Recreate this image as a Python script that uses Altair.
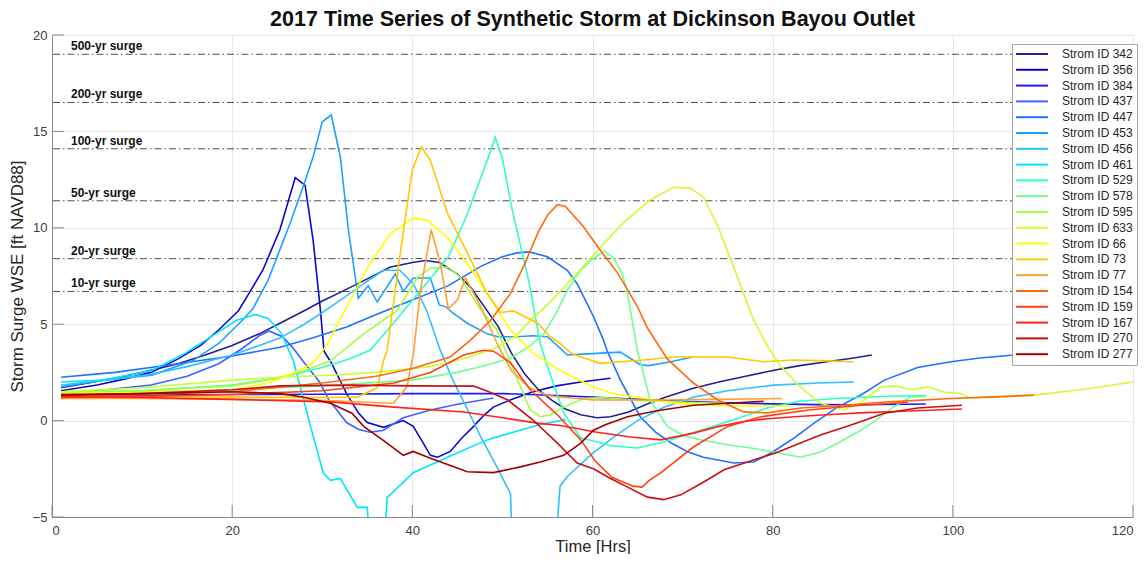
import altair as alt
import pandas as pd

# ---------------- data ----------------
storm_ids = ["342", "356", "384", "437", "447", "453", "456", "461", "529", "578",
             "595", "633", "66", "73", "77", "154", "159", "167", "270", "277"]
storm_colors = ["#20208f", "#0a0ac8", "#1a1aff", "#4060ff", "#2070ff", "#20a0ff", "#30c0ff",
                "#00e5ff", "#30ffc0", "#70ff90", "#a0ff40", "#c8ff30", "#ffff00", "#ffc800",
                "#ffa030", "#ff6a10", "#ff4010", "#ff2020", "#c81010", "#a00000"]

T_342 = [1, 4, 7, 10, 14, 17, 20, 23, 25.3, 28, 30, 32, 35, 37.5, 40, 41.5, 43, 45, 46.5, 48, 49.5, 51, 52.5, 54, 55.5, 57, 58.7, 60.5, 62, 64, 66, 68, 71, 74, 77, 80, 83, 86, 89, 91]
Y_342 = [1.7, 1.95, 2.2, 2.5, 2.95, 3.4, 3.9, 4.5, 5.05, 5.7, 6.2, 6.65, 7.35, 7.95, 8.2, 8.3, 8.2, 7.6, 6.9, 5.9, 4.9, 3.5, 2.4, 1.6, 1.05, 0.6, 0.3, 0.15, 0.2, 0.45, 0.85, 1.2, 1.65, 2.0, 2.3, 2.6, 2.85, 3.05, 3.25, 3.4]

T_356 = [1, 5, 8, 11, 14, 16.5, 18.5, 20.7, 22, 23.4, 25.3, 27, 28.1, 29, 29.8, 30.2, 31, 32.7, 34, 35, 36.8, 39, 40.1, 41, 42, 42.8, 44.2, 45.5, 46.8, 48, 49, 51, 53.4, 56, 58.7, 62]
Y_356 = [1.55, 1.85, 2.15, 2.5, 3.2, 3.9, 4.7, 5.7, 6.7, 7.8, 9.9, 12.6, 12.2, 9.3, 5.7, 3.6, 3.0, 1.4, 0.4, -0.1, -0.35, 0.0, -0.3, -1.0, -1.8, -1.9, -1.6, -0.9, -0.3, 0.3, 0.7, 1.1, 1.5, 1.8, 2.0, 2.2]

T_384 = [1, 10, 20, 30, 40, 50, 56, 60, 65, 70, 75, 80, 85, 90, 97]
Y_384 = [1.3, 1.32, 1.35, 1.37, 1.4, 1.4, 1.3, 1.22, 1.1, 1.0, 0.92, 0.87, 0.83, 0.82, 0.86]

T_437 = [1, 6, 11, 15, 18.5, 21, 23, 24.1, 25.6, 26.7, 28, 29.7, 30.7, 32.7, 34, 35.3, 36.8, 39, 42, 45, 49]
Y_437 = [1.45, 1.6, 1.85, 2.3, 2.95, 3.7, 4.4, 4.65, 4.35, 3.8, 3.0, 2.0, 1.1, -0.1, -0.45, -0.6, -0.5, 0.15, 0.55, 0.85, 1.17]

T_447 = [1, 7, 14, 20, 25.3, 29, 32.7, 36, 40, 44, 47.6, 50, 51.6, 53, 55, 57.2, 58.3, 60.1, 61.2, 61.6, 63.1, 65.3, 67, 68.7, 70.5, 72.3, 75.7, 77.9, 80.1, 82.4, 84.6, 87.2, 89.8, 92.4, 96.1, 99.8, 103, 106.8, 110, 114, 117, 120]
Y_447 = [2.25, 2.5, 2.95, 3.35, 3.8, 4.3, 4.85, 5.5, 6.25, 7.0, 8.0, 8.5, 8.7, 8.75, 8.5, 7.8, 7.1, 5.4, 4.2, 3.65, 2.1, 0.2, -0.6, -1.15, -1.6, -1.9, -2.2, -2.15, -1.6, -0.9, -0.13, 0.7, 1.33, 2.1, 2.75, 3.05, 3.25, 3.4, 3.55, 3.7, 3.82, 3.92]

T_453 = [1, 5.6, 11.1, 15.6, 18.5, 20.7, 22.3, 24, 26.4, 28, 29, 30, 31, 32, 32.9, 34, 35.1, 36.1, 38.1, 39, 40.1, 42, 43, 43.7, 44.6, 46.1, 48.3, 49.5, 51.6, 53.4, 55, 56.4, 57.2, 59, 60.9, 63.1, 65.3, 66.2, 68.7, 71.1]
Y_453 = [1.75, 2.1, 2.36, 3.1, 4.0, 5.0, 5.8, 7.3, 10.2, 12.3, 13.7, 15.5, 15.85, 13.7, 9.9, 6.35, 7.0, 6.15, 7.6, 6.7, 7.4, 7.4, 6.0, 5.9, 5.55, 5.05, 4.5, 4.35, 4.35, 4.4, 4.35, 3.76, 3.4, 3.45, 3.5, 3.55, 2.9, 2.85, 3.05, 3.3]

T_456 = [1, 6, 11, 15, 20, 25.3, 28, 30, 32.5, 34.6, 36.8, 38.6, 40.1, 41.6, 43.1, 44.5, 46, 47.6, 49.5, 50.9, 51.1, 55.9, 56.4, 57.2, 60, 62.5, 65, 68, 71.3, 75, 80.1, 85, 89]
Y_456 = [1.85, 2.1, 2.4, 2.8, 3.4, 4.28, 5.0, 5.6, 6.4, 7.1, 7.8, 7.8, 7.1, 5.7, 3.65, 2.1, 0.7, -0.85, -2.5, -3.8, -6.5, -6.5, -3.4, -2.9, -1.7, -0.8, 0.0, 0.7, 1.22, 1.55, 1.84, 1.95, 2.0]

T_461 = [1, 5.6, 11.1, 14.8, 18.5, 20.5, 22.6, 24, 25.5, 26.8, 28.7, 30.1, 30.9, 32, 33.9, 35, 35.3, 36.9, 37.2, 40.1, 43.9, 48.3, 51.2, 54.2, 57]
Y_461 = [2.0, 2.1, 2.6, 3.5, 4.6, 5.2, 5.5, 5.3, 4.5, 3.1, -0.3, -2.7, -3.1, -3.0, -4.5, -4.5, -6.5, -6.5, -4.0, -2.7, -1.9, -1.0, -0.6, -0.2, 0.05]

T_529 = [1, 10, 20, 25, 30, 33, 35.3, 37.9, 40.9, 44, 46.1, 48.7, 49.2, 50, 51.1, 52.9, 54.2, 55, 56.8, 58.7, 60.5, 62, 65, 68, 72, 76, 79.4, 83, 87, 92, 97]
Y_529 = [1.45, 1.55, 1.85, 2.2, 2.75, 3.2, 3.65, 5.05, 6.75, 8.5, 10.7, 14.0, 14.7, 13.6, 10.9, 7.3, 4.0, 2.8, 0.4, -0.9, -1.1, -1.3, -1.42, -1.1, -0.5, 0.1, 0.65, 1.0, 1.15, 1.25, 1.3]

T_578 = [1, 10, 20, 30, 40, 45, 48, 50.9, 53, 54.6, 56, 57.2, 58.5, 59.8, 61.3, 62.4, 63.3, 63.8, 65, 66.4, 68.3, 70, 72, 75, 77.6, 80.1, 83.1, 85.3, 87.5, 89.8, 91, 93.4, 95.3, 97]
Y_578 = [1.45, 1.5, 1.6, 1.8, 2.1, 2.5, 2.85, 3.25, 3.85, 4.5, 5.6, 6.75, 7.7, 8.3, 8.8, 8.4, 7.6, 6.8, 3.6, 1.07, -0.3, -0.75, -1.0, -1.25, -1.42, -1.63, -1.9, -1.63, -1.1, -0.5, -0.13, 0.7, 1.22, 1.25]

T_595 = [1, 10, 20, 25, 28, 30.9, 34.6, 38.3, 40.6, 42, 44, 45.3, 47.6, 49.4, 51.7, 53.1, 54.2, 55.3, 56.8, 59, 61.2, 65, 70, 75]
Y_595 = [1.5, 1.55, 1.8, 2.2, 2.6, 3.1, 4.5, 5.7, 7.45, 7.9, 7.95, 7.45, 5.75, 4.7, 2.1, 0.55, 0.2, 0.3, 0.7, 1.15, 1.2, 1.05, 0.95, 0.9]

T_633 = [1, 10, 20, 25, 30.9, 36, 42, 46, 49.4, 51.5, 53.1, 55, 56.8, 58.8, 60.9, 63.5, 66.4, 69, 70.9, 72.3, 73.9, 75.8, 77.9, 79.5, 80.9, 83.1, 85.3, 87.9, 89.7, 92, 93.6, 95.4, 97.2, 99, 100.9, 101.8, 105, 109, 115, 120]
Y_633 = [1.5, 1.7, 2.1, 2.25, 2.35, 2.5, 2.8, 3.25, 3.8, 4.4, 5.2, 6.0, 6.9, 7.9, 9.0, 10.3, 11.45, 12.1, 12.05, 11.6, 10.1, 7.8, 5.2, 3.8, 2.8, 1.74, 0.9, 0.55, 0.9, 1.74, 1.8, 1.6, 1.75, 1.48, 1.4, 1.2, 1.22, 1.32, 1.65, 2.0]

T_66 = [1, 10, 20, 24, 27, 29, 30.5, 32.7, 35.3, 37.6, 40.1, 41.6, 43.9, 46.1, 48.3, 50.9, 53.4, 56.4, 60.1, 62.4, 65.3, 67.6, 70, 73.5, 78, 82]
Y_66 = [1.4, 1.45, 1.6, 1.95, 2.5, 3.0, 3.9, 5.9, 8.15, 9.7, 10.5, 10.4, 9.5, 8.15, 6.6, 4.7, 3.5, 2.6, 1.74, 1.38, 1.2, 1.0, 0.88, 0.78, 0.76, 0.76]

T_73 = [1, 10, 20, 30, 33.9, 36.1, 36.8, 37.2, 38.7, 40, 41, 42, 43.9, 46.1, 48.3, 49.8, 51.2, 53.9, 55.3, 56.4, 57.6, 58.7, 60.9, 63, 65.7, 69, 75, 79, 82.4, 86, 89]
Y_73 = [1.25, 1.25, 1.22, 1.2, 1.22, 1.7, 3.1, 3.65, 8.8, 13.0, 14.2, 13.5, 10.75, 8.7, 6.6, 5.6, 5.7, 5.05, 4.35, 4.0, 3.5, 3.3, 2.97, 3.05, 3.14, 3.3, 3.3, 3.05, 3.14, 3.1, 3.05]

T_77 = [1, 10, 20, 30, 35, 37.9, 39.4, 40.1, 40.9, 42.1, 43.1, 44, 45, 45.9, 47.6, 49.4, 51, 53, 55, 56.4, 60.1, 67.6, 74, 81]
Y_77 = [1.15, 1.15, 1.1, 1.05, 0.95, 0.9, 1.75, 3.4, 6.75, 9.9, 8.15, 5.8, 6.25, 7.4, 5.9, 4.0, 2.6, 1.7, 1.3, 1.22, 1.07, 1.07, 1.1, 1.15]

T_154 = [1, 10, 20, 30, 36, 40, 44.2, 46.4, 48.7, 50.9, 52.3, 54, 55, 56.1, 57, 59, 60.6, 62.8, 65, 66.1, 68.3, 71.2, 73.9, 76.8, 79.4, 83.1, 88, 92, 96, 99.8, 104, 109]
Y_154 = [1.3, 1.35, 1.5, 1.95, 2.3, 2.7, 3.3, 4.15, 5.2, 6.6, 7.95, 9.8, 10.65, 11.2, 11.1, 10.05, 9.0, 7.65, 5.9, 4.8, 3.2, 1.95, 1.07, 0.45, 0.4, 0.65, 0.8, 0.95, 1.05, 1.15, 1.22, 1.32]

T_159 = [1, 10, 20, 30, 38, 42, 45.7, 47.9, 49, 50.9, 53.1, 56.1, 58.7, 60.3, 62.2, 64.5, 65.5, 66.3, 67.6, 71.2, 75, 78.7, 84, 89.8, 95]
Y_159 = [1.2, 1.25, 1.35, 1.55, 1.95, 2.5, 3.4, 3.65, 3.6, 3.0, 1.6, 0.3, -1.0, -2.1, -2.95, -3.4, -3.45, -3.1, -2.7, -1.37, -0.3, 0.2, 0.55, 0.8, 0.95]

T_167 = [1, 10, 20, 30.9, 38, 45.7, 50, 53.9, 56.4, 60.5, 64.2, 67.6, 71.2, 74, 76.8, 79.5, 82.4, 86, 89.8, 95, 101]
Y_167 = [1.25, 1.2, 1.1, 0.97, 0.7, 0.45, 0.15, -0.13, -0.25, -0.6, -0.85, -1.0, -0.65, -0.3, -0.05, 0.1, 0.2, 0.3, 0.4, 0.5, 0.6]

T_270 = [1, 10, 20, 25.3, 33.3, 40, 46.8, 48.5, 50.6, 53.4, 56.1, 58.3, 60.1, 62, 63.9, 66.1, 67.9, 69.8, 72.3, 74.6, 77.2, 80.6, 85.3, 88.7, 92.4, 96.1, 101]
Y_270 = [1.3, 1.4, 1.6, 1.8, 1.84, 1.8, 1.79, 1.5, 1.07, 0.03, -1.17, -2.2, -2.5, -3.0, -3.45, -3.97, -4.1, -3.85, -3.2, -2.55, -2.15, -1.63, -0.75, -0.23, 0.38, 0.65, 0.8]

T_277 = [1, 10, 20, 25.3, 27.8, 30.9, 33.3, 34.6, 37, 39, 40.1, 42, 44.6, 46.1, 49, 52, 54.2, 56.8, 58.7, 60.1, 61.5, 63.9, 67, 71.2, 75, 79]
Y_277 = [1.35, 1.4, 1.5, 1.4, 1.22, 0.9, 0.38, -0.3, -1.1, -1.8, -1.6, -1.95, -2.4, -2.65, -2.7, -2.4, -2.15, -1.8, -1.17, -0.5, -0.2, 0.2, 0.5, 0.8, 0.9, 1.0]

surge_labels = ["500-yr surge", "200-yr surge", "100-yr surge", "50-yr surge", "20-yr surge", "10-yr surge"]
surge_values = [19.0, 16.5, 14.1, 11.4, 8.4, 6.7]

x_ticks = [0, 20, 40, 60, 80, 100, 120]
y_ticks = [-5, 0, 5, 10, 15, 20]

series = {
    "342": (T_342, Y_342), "356": (T_356, Y_356), "384": (T_384, Y_384), "437": (T_437, Y_437),
    "447": (T_447, Y_447), "453": (T_453, Y_453), "456": (T_456, Y_456), "461": (T_461, Y_461),
    "529": (T_529, Y_529), "578": (T_578, Y_578), "595": (T_595, Y_595), "633": (T_633, Y_633),
    "66": (T_66, Y_66), "73": (T_73, Y_73), "77": (T_77, Y_77), "154": (T_154, Y_154),
    "159": (T_159, Y_159), "167": (T_167, Y_167), "270": (T_270, Y_270), "277": (T_277, Y_277),
}

rows = []
for sid in storm_ids:
    t, y = series[sid]
    for i, (a, b) in enumerate(zip(t, y)):
        rows.append({"storm": "Strom ID " + sid, "hour": a, "wse": b, "idx": i})
df = pd.DataFrame(rows)
names = ["Strom ID " + s for s in storm_ids]

surge_df = pd.DataFrame({"label": surge_labels, "val": surge_values})
xt_df = pd.DataFrame({"t": x_ticks})
yt_df = pd.DataFrame({"v": y_ticks})

W, H = 1081, 482
FONT = "Liberation Sans"

xscale = alt.Scale(domain=[0, 120], nice=False, zero=False)
yscale = alt.Scale(domain=[-5, 20], nice=False, zero=False)

x_axis = alt.Axis(values=x_ticks, title="Time [Hrs]", grid=True, tickSize=0, labelPadding=7,
                  titlePadding=1, labelFontSize=13, titleFontSize=16.5, labelColor="#404040",
                  titleColor="#262626", titleFontWeight="normal", domainColor="#8a8a8a",
                  gridColor="#e6e6e6", labelFont=FONT, titleFont=FONT)
y_axis = alt.Axis(values=y_ticks, title="Storm Surge WSE [ft NAVD88]", grid=True, tickSize=0,
                  labelPadding=5, titlePadding=6, labelFontSize=13, titleFontSize=17,
                  labelColor="#404040", titleColor="#262626", titleFontWeight="normal",
                  domainColor="#8a8a8a", gridColor="#e6e6e6", labelFont=FONT, titleFont=FONT)

surge_rules = alt.Chart(surge_df).mark_rule(
    color="#3a3a3a", strokeWidth=0.9, strokeDash=[7, 3, 1.5, 3]
).encode(y=alt.Y("val:Q", scale=yscale, axis=y_axis))

surge_text = alt.Chart(surge_df).mark_text(
    align="left", baseline="bottom", dy=-1, fontWeight="bold", fontSize=12, font=FONT, color="#111111"
).encode(y=alt.Y("val:Q", scale=yscale), x=alt.value(19), text="label:N")

legend = alt.Legend(title=None, orient="none", legendX=960, legendY=9,
                    symbolType="M-3.2,0L3.2,0", symbolSize=100, symbolStrokeWidth=2,
                    symbolOffset=10, labelOffset=24,
                    labelFontSize=12, labelFont=FONT, labelColor="#262626",
                    rowPadding=3.8, padding=4, labelLimit=200,
                    strokeColor="#a6a6a6", fillColor="white")

lines = alt.Chart(df).mark_line(strokeWidth=1.6, clip=True).encode(
    x=alt.X("hour:Q", scale=xscale, axis=x_axis),
    y=alt.Y("wse:Q", scale=yscale, axis=y_axis),
    color=alt.Color("storm:N", scale=alt.Scale(domain=names, range=storm_colors), sort=names,
                    legend=legend),
    detail="storm:N",
    order="idx:Q",
)

yticks = alt.Chart(yt_df).mark_rule(color="#8a8a8a", strokeWidth=1).encode(
    y=alt.Y("v:Q", scale=yscale), x=alt.value(0), x2=alt.value(12))
xticks = alt.Chart(xt_df).mark_rule(color="#8a8a8a", strokeWidth=1).encode(
    x=alt.X("t:Q", scale=xscale), y=alt.value(H), y2=alt.value(H - 12))

chart = alt.layer(surge_rules, lines, surge_text, yticks, xticks).properties(
    width=W, height=H,
    title=alt.TitleParams("2017 Time Series of Synthetic Storm at Dickinson Bayou Outlet",
                          fontSize=21.5, font=FONT, fontWeight="bold", color="#111111",
                          anchor="middle", frame="group", offset=1, dy=2),
    autosize=alt.AutoSizeParams(type="none"),
    padding={"left": 44, "top": 27, "right": 6, "bottom": 37},
).configure_view(stroke="#bdbdbd", strokeWidth=1)

chart.save("out.html", embed_options={"renderer": "svg", "actions": False})
